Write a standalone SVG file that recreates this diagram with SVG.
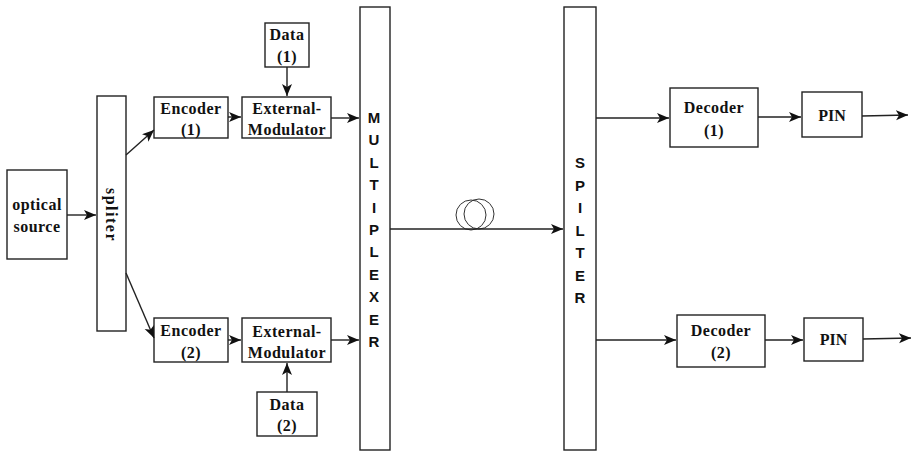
<svg xmlns="http://www.w3.org/2000/svg" width="912" height="451" viewBox="0 0 912 451">
<defs>
<marker id="ah" markerUnits="userSpaceOnUse" markerWidth="13" markerHeight="11" refX="12" refY="5" orient="auto">
<path d="M0,0 L12,5 L0,10 L3,5 z" fill="#111"/>
</marker>
<style>
rect.b{fill:#fff;stroke:#222;stroke-width:1.4}
text.s{font-family:"Liberation Serif","Times New Roman",serif;font-weight:bold;font-size:16px;letter-spacing:0.5px;fill:#111;text-anchor:middle}
text.a{font-family:"Liberation Sans",Arial,sans-serif;font-weight:bold;font-size:15px;fill:#111;text-anchor:middle}
.c line{stroke:#222;stroke-width:1.4;marker-end:url(#ah)}
circle{fill:none;stroke:#333;stroke-width:1}
</style>
</defs>
<rect width="912" height="451" fill="#fff"/>
<g id="optical-source"><rect class="b" x="7" y="170" width="60" height="89"/><text class="s" x="37" y="210">optical</text><text class="s" x="37" y="232">source</text></g>
<g id="spliter"><rect class="b" x="97" y="96" width="29" height="235"/><text class="s" transform="translate(111,215) rotate(90)" y="5" style="letter-spacing:1.5px">spliter</text></g>
<g id="encoder1"><rect class="b" x="154" y="97" width="74" height="41"/><text class="s" x="191" y="114">Encoder</text><text class="s" x="191" y="135">(1)</text></g>
<g id="modulator1"><rect class="b" x="242" y="97" width="89" height="41"/><text class="s" x="287" y="114">External-</text><text class="s" x="287" y="135">Modulator</text></g>
<g id="data1"><rect class="b" x="265" y="23" width="44" height="44"/><text class="s" x="287" y="40">Data</text><text class="s" x="287" y="62">(1)</text></g>
<g id="encoder2"><rect class="b" x="154" y="318" width="74" height="44"/><text class="s" x="191" y="336">Encoder</text><text class="s" x="191" y="358">(2)</text></g>
<g id="modulator2"><rect class="b" x="242" y="318" width="89" height="44"/><text class="s" x="287" y="337">External-</text><text class="s" x="287" y="358">Modulator</text></g>
<g id="data2"><rect class="b" x="257" y="392" width="60" height="44"/><text class="s" x="287" y="410">Data</text><text class="s" x="287" y="431">(2)</text></g>
<g id="multiplexer"><rect class="b" x="360" y="7" width="30" height="443"/>
<text class="a" x="374" y="123">M</text><text class="a" x="374" y="145.4">U</text><text class="a" x="374" y="167.8">L</text><text class="a" x="374" y="190.2">T</text><text class="a" x="374" y="212.6">I</text><text class="a" x="374" y="235">P</text><text class="a" x="374" y="257.4">L</text><text class="a" x="374" y="279.8">E</text><text class="a" x="374" y="302.2">X</text><text class="a" x="374" y="324.6">E</text><text class="a" x="374" y="347">R</text></g>
<g id="splitter"><rect class="b" x="564" y="7" width="32" height="443"/>
<text class="a" x="580" y="168">S</text><text class="a" x="580" y="190.5">P</text><text class="a" x="580" y="213">I</text><text class="a" x="580" y="235.5">L</text><text class="a" x="580" y="258">T</text><text class="a" x="580" y="280.5">E</text><text class="a" x="580" y="303">R</text></g>
<g id="decoder1"><rect class="b" x="670" y="88" width="88" height="59"/><text class="s" x="714" y="113">Decoder</text><text class="s" x="714" y="136">(1)</text></g>
<g id="pin1"><rect class="b" x="802" y="92" width="60" height="45"/><text class="s" x="832" y="121" style="letter-spacing:0">PIN</text></g>
<g id="decoder2"><rect class="b" x="677" y="315" width="88" height="52"/><text class="s" x="721" y="336">Decoder</text><text class="s" x="721" y="358">(2)</text></g>
<g id="pin2"><rect class="b" x="804" y="318" width="59" height="43"/><text class="s" x="833.5" y="345" style="letter-spacing:0">PIN</text></g>
<g id="fiber-coil"><circle cx="479" cy="214" r="15"/><circle cx="471" cy="215" r="15"/></g>
<g class="c" id="connectors">
<line x1="67" y1="215" x2="96" y2="215"/>
<line x1="126" y1="155" x2="154" y2="130"/>
<line x1="126" y1="273" x2="154" y2="338"/>
<line x1="228" y1="117" x2="241" y2="117"/>
<line x1="287" y1="67" x2="287" y2="96"/>
<line x1="331" y1="118" x2="359" y2="118"/>
<line x1="228" y1="340" x2="241" y2="340"/>
<line x1="287" y1="392" x2="287" y2="363"/>
<line x1="331" y1="340" x2="359" y2="340"/>
<line x1="390" y1="229" x2="563" y2="229"/>
<line x1="596" y1="118" x2="669" y2="118"/>
<line x1="758" y1="117" x2="801" y2="117"/>
<line x1="862" y1="116" x2="908" y2="115"/>
<line x1="596" y1="340" x2="676" y2="340"/>
<line x1="765" y1="340" x2="803" y2="340"/>
<line x1="863" y1="339" x2="911" y2="338"/>
</g>
</svg>
